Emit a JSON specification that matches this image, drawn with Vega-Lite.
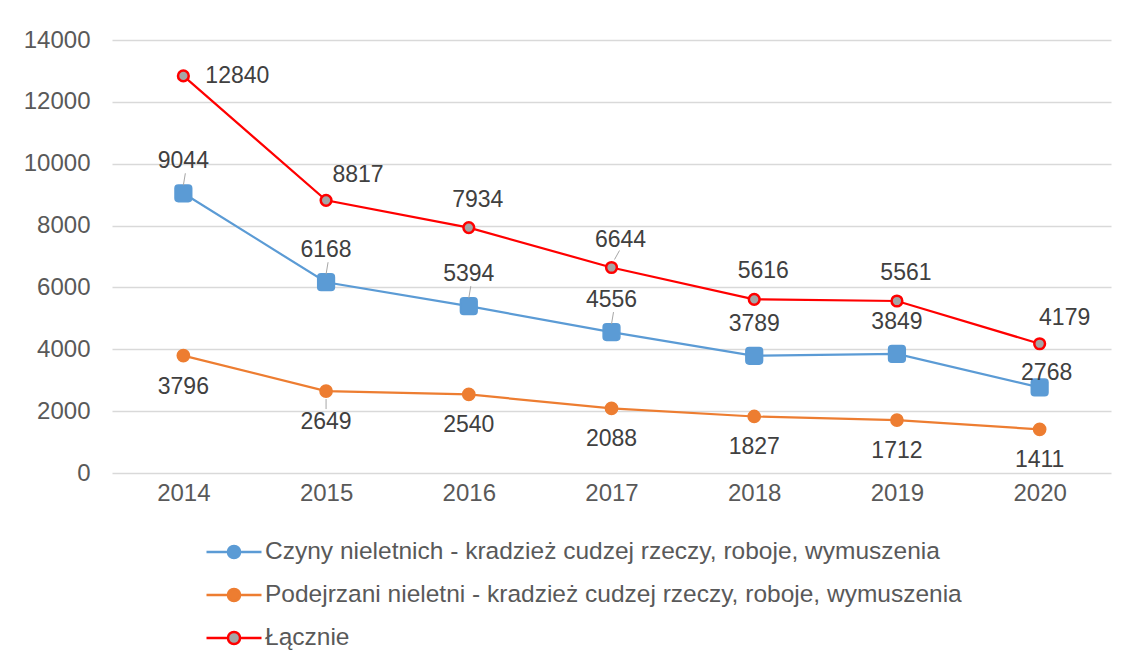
{
  "$schema": "https://vega.github.io/schema/vega-lite/v6.json",
  "autosize": {"type": "none"},
  "width": 999,
  "height": 433,
  "padding": {"left": 112, "top": 40, "right": 19, "bottom": 195},
  "background": "white",
  "config": {
    "view": {"stroke": null},
    "font": "Liberation Sans",
    "axis": {"labelFont": "Liberation Sans", "labelColor": "#595959", "labelFontSize": 24, "ticks": false, "domain": false, "title": null},
    "legend": {"title": null, "orient": "none", "legendX": 93, "legendY": 483, "direction": "vertical", "symbolType": "M-1,0H-0.22M0.22,0H1M-0.22,0A0.22,0.22,0,1,0,0.22,0A0.22,0.22,0,1,0,-0.22,0Z", "symbolSize": 3025, "symbolStrokeWidth": 2.5, "labelFontSize": 24.5, "labelColor": "#595959", "labelFont": "Liberation Sans", "labelOffset": 2, "labelLimit": 0, "symbolOffset": 0, "padding": 0, "rowPadding": 2}
  },
  "data": {"values": [
    {"year": "2014", "series": "Czyny nieletnich - kradzież cudzej rzeczy, roboje, wymuszenia", "value": 9044},
    {"year": "2015", "series": "Czyny nieletnich - kradzież cudzej rzeczy, roboje, wymuszenia", "value": 6168},
    {"year": "2016", "series": "Czyny nieletnich - kradzież cudzej rzeczy, roboje, wymuszenia", "value": 5394},
    {"year": "2017", "series": "Czyny nieletnich - kradzież cudzej rzeczy, roboje, wymuszenia", "value": 4556},
    {"year": "2018", "series": "Czyny nieletnich - kradzież cudzej rzeczy, roboje, wymuszenia", "value": 3789},
    {"year": "2019", "series": "Czyny nieletnich - kradzież cudzej rzeczy, roboje, wymuszenia", "value": 3849},
    {"year": "2020", "series": "Czyny nieletnich - kradzież cudzej rzeczy, roboje, wymuszenia", "value": 2768},
    {"year": "2014", "series": "Podejrzani nieletni - kradzież cudzej rzeczy, roboje, wymuszenia", "value": 3796},
    {"year": "2015", "series": "Podejrzani nieletni - kradzież cudzej rzeczy, roboje, wymuszenia", "value": 2649},
    {"year": "2016", "series": "Podejrzani nieletni - kradzież cudzej rzeczy, roboje, wymuszenia", "value": 2540},
    {"year": "2017", "series": "Podejrzani nieletni - kradzież cudzej rzeczy, roboje, wymuszenia", "value": 2088},
    {"year": "2018", "series": "Podejrzani nieletni - kradzież cudzej rzeczy, roboje, wymuszenia", "value": 1827},
    {"year": "2019", "series": "Podejrzani nieletni - kradzież cudzej rzeczy, roboje, wymuszenia", "value": 1712},
    {"year": "2020", "series": "Podejrzani nieletni - kradzież cudzej rzeczy, roboje, wymuszenia", "value": 1411},
    {"year": "2014", "series": "Łącznie", "value": 12840},
    {"year": "2015", "series": "Łącznie", "value": 8817},
    {"year": "2016", "series": "Łącznie", "value": 7934},
    {"year": "2017", "series": "Łącznie", "value": 6644},
    {"year": "2018", "series": "Łącznie", "value": 5616},
    {"year": "2019", "series": "Łącznie", "value": 5561},
    {"year": "2020", "series": "Łącznie", "value": 4179}
  ]},
  "encoding": {
    "x": {"field": "year", "type": "ordinal", "scale": {"type": "point", "padding": 0.5}, "axis": {"labelAngle": 0, "labelPadding": 8, "grid": false}},
    "y": {"field": "value", "type": "quantitative", "scale": {"domain": [0, 14000]}, "axis": {"values": [0, 2000, 4000, 6000, 8000, 10000, 12000, 14000], "labelPadding": 22, "grid": true, "gridColor": "#D9D9D9", "gridWidth": 1.3, "format": "d"}}
  },
  "layer": [
    {
      "mark": {"type": "line", "strokeWidth": 2.2},
      "encoding": {
        "stroke": {"field": "series", "type": "nominal",
          "scale": {"domain": ["Czyny nieletnich - kradzież cudzej rzeczy, roboje, wymuszenia", "Podejrzani nieletni - kradzież cudzej rzeczy, roboje, wymuszenia", "Łącznie"], "range": ["#5B9BD5", "#ED7D31", "#FF0000"]}
        }
      }
    },
    {
      "transform": [{"filter": "datum.series[0] == 'P'"}],
      "mark": {"type": "point", "shape": "circle", "filled": true, "opacity": 1, "strokeWidth": 1.5, "size": 150},
      "encoding": {
        "stroke": {"field": "series", "type": "nominal"},
        "fill": {"field": "series", "type": "nominal",
          "scale": {"domain": ["Czyny nieletnich - kradzież cudzej rzeczy, roboje, wymuszenia", "Podejrzani nieletni - kradzież cudzej rzeczy, roboje, wymuszenia", "Łącznie"], "range": ["#5B9BD5", "#ED7D31", "#A5A5A5"]}
        }
      }
    },
    {
      "transform": [{"filter": "datum.series[0] == 'C'"}],
      "mark": {"type": "point", "filled": true, "opacity": 1, "color": "#5B9BD5", "stroke": "#5B9BD5", "strokeWidth": 1.5, "size": 280, "shape": "M-0.6,-1H0.6Q1,-1,1,-0.6V0.6Q1,1,0.6,1H-0.6Q-1,1,-1,0.6V-0.6Q-1,-1,-0.6,-1Z"}
    },
    {
      "transform": [{"filter": "datum.series == 'Łącznie'"}],
      "mark": {"type": "point", "shape": "circle", "filled": true, "opacity": 1, "strokeWidth": 2.5, "size": 115},
      "encoding": {
        "stroke": {"field": "series", "type": "nominal"},
        "fill": {"field": "series", "type": "nominal"}
      }
    },
    {
      "transform": [{"filter": "datum.series[0] == 'C' && datum.year <= '2017'"}],
      "mark": {"type": "rule", "color": "#A6A6A6", "strokeWidth": 1, "yOffset": -8, "y2Offset": -20, "xOffset": 0, "x2Offset": 2},
      "encoding": {"x2": {"field": "year"}, "y2": {"field": "value"}}
    },
    {
      "transform": [{"filter": "datum.series[0] == 'P' && datum.year == '2015'"}],
      "mark": {"type": "rule", "color": "#A6A6A6", "strokeWidth": 1, "yOffset": 8, "y2Offset": 18},
      "encoding": {"x2": {"field": "year"}, "y2": {"field": "value"}}
    },
    {
      "transform": [{"filter": "datum.series == 'Łącznie' && datum.year == '2017'"}],
      "mark": {"type": "rule", "color": "#A6A6A6", "strokeWidth": 1, "yOffset": -8, "y2Offset": -17, "xOffset": 3, "x2Offset": 8},
      "encoding": {"x2": {"field": "year"}, "y2": {"field": "value"}}
    },
    {
      "transform": [{"filter": "datum.series[0] == 'C' && datum.year != '2020'"}],
      "mark": {"type": "text", "fontSize": 23, "color": "#404040", "baseline": "middle", "dy": -32},
      "encoding": {"text": {"field": "value", "type": "quantitative", "format": "d"}}
    },
    {
      "transform": [{"filter": "datum.series[0] == 'C' && datum.year == '2020'"}],
      "mark": {"type": "text", "fontSize": 23, "color": "#404040", "baseline": "middle", "dy": -14, "dx": 7},
      "encoding": {"text": {"field": "value", "type": "quantitative", "format": "d"}}
    },
    {
      "transform": [{"filter": "datum.series[0] == 'P'"}],
      "mark": {"type": "text", "fontSize": 23, "color": "#404040", "baseline": "middle", "dy": 31},
      "encoding": {"text": {"field": "value", "type": "quantitative", "format": "d"}}
    },
    {
      "transform": [{"filter": "datum.series == 'Łącznie' && datum.year == '2014'"}],
      "mark": {"type": "text", "fontSize": 23, "color": "#404040", "baseline": "middle", "align": "left", "dx": 22, "dy": 0},
      "encoding": {"text": {"field": "value", "type": "quantitative", "format": "d"}}
    },
    {
      "transform": [{"filter": "datum.series == 'Łącznie' && datum.year == '2015'"}],
      "mark": {"type": "text", "fontSize": 23, "color": "#404040", "baseline": "middle", "dx": 32, "dy": -25},
      "encoding": {"text": {"field": "value", "type": "quantitative", "format": "d"}}
    },
    {
      "transform": [{"filter": "datum.series == 'Łącznie' && datum.year >= '2016' && datum.year <= '2019'"}],
      "mark": {"type": "text", "fontSize": 23, "color": "#404040", "baseline": "middle", "dx": 9, "dy": -28},
      "encoding": {"text": {"field": "value", "type": "quantitative", "format": "d"}}
    },
    {
      "transform": [{"filter": "datum.series == 'Łącznie' && datum.year == '2020'"}],
      "mark": {"type": "text", "fontSize": 23, "color": "#404040", "baseline": "middle", "dx": 25, "dy": -26},
      "encoding": {"text": {"field": "value", "type": "quantitative", "format": "d"}}
    }
  ]
}
